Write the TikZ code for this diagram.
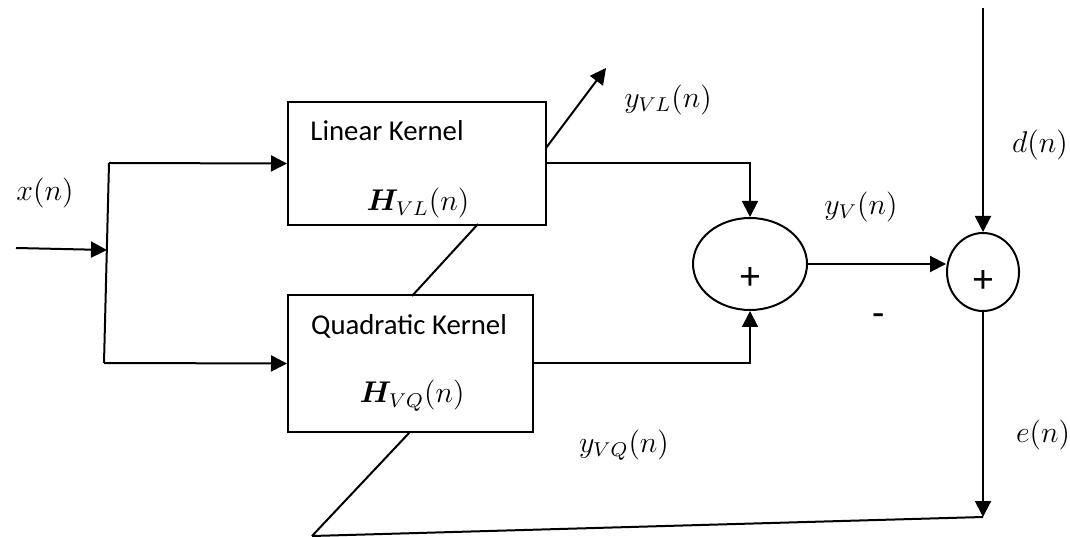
\documentclass[tikz,border=0pt]{standalone}
\usepackage{fontspec}
\usepackage{amsmath}
\usepackage{bm}
\setmainfont{Carlito}
\usetikzlibrary{arrows.meta,positioning,shapes.geometric}

\begin{document}
\begin{tikzpicture}[x=0.4pt,y=-0.4pt,line width=0.8pt,
    every node/.style={font=\fontsize{11.5}{14}\selectfont,inner sep=0pt},
    box/.style={draw,fill=white},
    sumnode/.style={draw,ellipse},
    sign/.style={font=\fontsize{16}{18}\selectfont},
    arr/.style={-{Triangle[length=6.4pt,width=6.4pt]}}]
    \useasboundingbox (0,0) rectangle (1070,537);
    \node[box,minimum width=103.2pt,minimum height=49.2pt] (lin) at (417,163.5) {};
    \node[box,minimum width=98pt,minimum height=54.8pt] (quad) at (410.5,363.5) {};
    \node[anchor=base] at (387,141) {Linear Kernel};
    \node[anchor=base] at (418,211) {$\bm{H}_{VL}(n)$};
    \node[anchor=base] at (409,335) {Quadratic Kernel};
    \node[anchor=base] at (412,403) {$\bm{H}_{VQ}(n)$};
    \node[sumnode,minimum width=45.6pt,minimum height=36.8pt] (add1) at (750,264) {};
    \node[sign] at (750,279) {+};
    \node[sumnode,minimum width=28.8pt,minimum height=31.2pt] (add2) at (983,272) {};
    \node[sign] at (983,282) {+};
    \coordinate (xin) at (16,248);
    \coordinate (split) at (107,250);
    \coordinate (st) at (109,163);
    \coordinate (sb) at (104,363);
    \coordinate (dtop) at (983,8);
    \coordinate (eend) at (983,517);
    \coordinate (bl) at (312,536);
    \coordinate (q1) at (410,432);
    \coordinate (q2) at (412,296);
    \coordinate (l1) at (478,224);
    \coordinate (l2) at (546,148);
    \coordinate (tip) at (606,68);
    \draw[arr] (xin) -- (split);
    \draw (st) -- (sb);
    \draw[arr] (st) -- (lin.west);
    \draw[arr] (sb) -- (quad.west);
    \draw[arr] (lin.east) -| (add1.north);
    \draw[arr] (quad.east) -| (add1.south);
    \draw[arr] (add1.east) -- (add1.east -| add2.west);
    \draw[arr] (dtop) -- (add2.north);
    \draw[arr] (add2.south) -- (eend);
    \draw (eend) -- (bl);
    \draw (bl) -- (q1);
    \draw (q2) -- (l1);
    \draw[arr] (l2) -- (tip);
    \node at (45,193) {$x(n)$};
    \node at (668,100) {$y_{VL}(n)$};
    \node at (1040,145) {$d(n)$};
    \node at (861,207) {$y_V(n)$};
    \node[sign] at (879,320) {-};
    \node at (624,445) {$y_{VQ}(n)$};
    \node at (1043,435) {$e(n)$};
\end{tikzpicture}
\end{document}
